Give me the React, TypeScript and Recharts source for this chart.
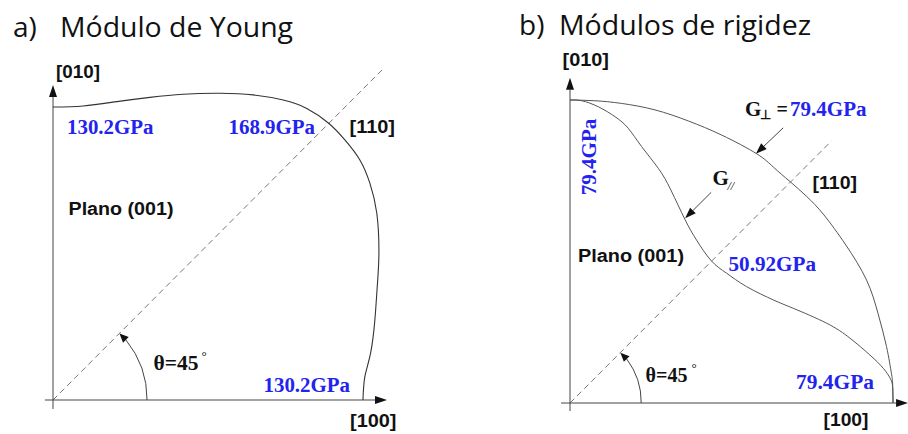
import React from "react"
import { ComposedChart, Line, XAxis, YAxis, ReferenceLine } from "recharts"

// a) Módulo de Young no plano (001): contorno em componentes x/y (GPa)
const youngX = [0, 12.7, 26.8, 40.7, 54.7, 70.1, 84.1, 96.7, 106.6, 115.8, 122.6, 128.9, 133.1, 136.0, 136.9, 136.2, 135.2, 133.4, 131.0, 130.2]
const youngY = [130.2, 130.7, 132.6, 134.5, 135.9, 136.3, 135.6, 133.3, 129.6, 123.0, 115.6, 106.7, 96.4, 83.1, 65.2, 50.4, 35.6, 20.8, 10.4, 0]

// b) Módulos de rigidez: G perpendicular e G paralelo (GPa)
const gPerpX = [0, 6.1, 12.7, 20.9, 29.1, 37.3, 45.9, 50.0, 54.1, 58.2, 62.4, 67.8, 72.9, 75.7, 77.8, 79.0, 79.3, 79.4]
const gPerpY = [79.4, 79.2, 78.5, 76.8, 73.9, 70.2, 65.3, 61.8, 58.0, 54.1, 49.3, 41.4, 32.2, 23.5, 14.8, 7.8, 5.2, 0]
const gParX = [0, 2.9, 7.0, 11.1, 14.3, 17.6, 21.7, 24.8, 28.3, 31.1, 34.7, 38.5, 43.4, 50.0, 54.9, 63.1, 68.8, 73.7, 77.0, 78.7, 79.3, 79.4]
const gParY = [79.4, 79.2, 77.6, 75.0, 72.0, 67.2, 61.5, 55.8, 48.0, 42.7, 37.3, 34.0, 30.5, 27.0, 24.8, 20.9, 17.0, 12.6, 9.1, 6.5, 4.3, 0]

const toPoints = (xs: number[], ys: number[]) => xs.map((x, i) => ({ x, y: ys[i] }))

const BLUE = "#2323f0"
const AXIS = "#444"

// line with a filled arrow head at (x2, y2)
const ArrowLine = (props: any) => {
  const { x1, y1, x2, y2, head = 12, wing = 4, color = AXIS } = props
  const a = Math.atan2(y2 - y1, x2 - x1)
  const bx = x2 - head * Math.cos(a)
  const by = y2 - head * Math.sin(a)
  const px = -Math.sin(a) * wing
  const py = Math.cos(a) * wing
  return (
    <g>
      <line x1={x1} y1={y1} x2={bx} y2={by} stroke={color} strokeWidth={1} />
      <polygon points={`${x2},${y2} ${bx + px},${by + py} ${bx - px},${by - py}`} fill="#111" />
    </g>
  )
}

// 45 degree arc around (x1, y1), starting at (x2, y2), arrow at the end
const AngleArc = (props: any) => {
  const { x1, y1, x2, y2 } = props
  const r = Math.hypot(x2 - x1, y2 - y1)
  const ex = x1 + r * Math.SQRT1_2
  const ey = y1 - r * Math.SQRT1_2
  const dx = -Math.SQRT1_2
  const dy = -Math.SQRT1_2
  const bx = ex - 9 * dx
  const by = ey - 9 * dy
  const px = -dy * 4
  const py = dx * 4
  return (
    <g>
      <path d={`M ${x2} ${y2} A ${r} ${r} 0 0 0 ${bx} ${by}`} fill="none" stroke={AXIS} strokeWidth={1} />
      <polygon points={`${ex},${ey} ${bx + px},${by + py} ${bx - px},${by - py}`} fill="#111" />
    </g>
  )
}

function YoungPanel() {
  return (
    <ComposedChart width={454} height={434} margin={{ top: 73.75, right: 55.8, bottom: 22.75, left: 41.1 }}>
      <XAxis type="number" dataKey="x" domain={[-5, 145]} hide allowDataOverflow />
      <YAxis type="number" dataKey="y" domain={[-5, 145]} hide allowDataOverflow />
      <ReferenceLine ifOverflow="visible" segment={[{ x: 0, y: 0 }, { x: 138.6, y: 147.1 }]} stroke="#777" strokeDasharray="6 4" />
      <ReferenceLine ifOverflow="visible" segment={[{ x: -3.4, y: 0 }, { x: 140.3, y: 0 }]} shape={(p: any) => <ArrowLine {...p} />} />
      <ReferenceLine ifOverflow="visible" segment={[{ x: 0, y: -4 }, { x: 0, y: 140 }]} shape={(p: any) => <ArrowLine {...p} />} />
      <ReferenceLine ifOverflow="visible" segment={[{ x: 0, y: 0 }, { x: 39.5, y: 0 }]} shape={(p: any) => <AngleArc {...p} />} />
      <Line data={toPoints(youngX, youngY)} dataKey="y" type="natural" stroke="#333" strokeWidth={1.1} dot={false} isAnimationActive={false} />
    </ComposedChart>
  )
}

function ShearPanel() {
  return (
    <ComposedChart width={454} height={434} margin={{ top: 74.8, right: 4.4, bottom: 19.55, left: 103.8 }}>
      <XAxis type="number" dataKey="x" domain={[-3, 82]} hide allowDataOverflow />
      <YAxis type="number" dataKey="y" domain={[-3, 86]} hide allowDataOverflow />
      <ReferenceLine ifOverflow="visible" segment={[{ x: 0, y: 0 }, { x: 64.3, y: 68.7 }]} stroke="#777" strokeDasharray="6 4" />
      <ReferenceLine ifOverflow="visible" segment={[{ x: -2.2, y: 0 }, { x: 83.1, y: 0 }]} shape={(p: any) => <ArrowLine {...p} />} />
      <ReferenceLine ifOverflow="visible" segment={[{ x: 0, y: -2.1 }, { x: 0, y: 85.2 }]} shape={(p: any) => <ArrowLine {...p} />} />
      <ReferenceLine ifOverflow="visible" segment={[{ x: 0, y: 0 }, { x: 17.5, y: 0 }]} shape={(p: any) => <AngleArc {...p} />} />
      <ReferenceLine ifOverflow="visible" segment={[{ x: 52.4, y: 72.1 }, { x: 45.7, y: 65.3 }]} shape={(p: any) => <ArrowLine {...p} head={11} wing={4} />} />
      <ReferenceLine ifOverflow="visible" segment={[{ x: 34.7, y: 55.2 }, { x: 28.3, y: 48.4 }]} shape={(p: any) => <ArrowLine {...p} head={11} wing={4} />} />
      <Line data={toPoints(gPerpX, gPerpY)} dataKey="y" type="natural" stroke="#555" strokeWidth={1} dot={false} isAnimationActive={false} />
      <Line data={toPoints(gParX, gParY)} dataKey="y" type="natural" stroke="#555" strokeWidth={1} dot={false} isAnimationActive={false} />
    </ComposedChart>
  )
}

const serif = "'Liberation Serif', 'Times New Roman', serif"
const sans = "'Liberation Sans', Arial, sans-serif"
const title = "'Open Sans', 'Noto Sans', sans-serif"

const Val = ({ x, y, w, children }: any) => (
  <text x={x} y={y} textLength={w} lengthAdjust="spacingAndGlyphs" fill={BLUE} fontFamily={serif} fontWeight="bold" fontSize={20}>
    {children}
  </text>
)
const Tag = ({ x, y, w, children }: any) => (
  <text x={x} y={y} textLength={w} lengthAdjust="spacingAndGlyphs" fill="#111" fontFamily={sans} fontWeight="bold" fontSize={18}>
    {children}
  </text>
)
// θ=45 with a raised degree sign, kept in one text element
const Theta = ({ x, y, w, gap }: any) => (
  <text x={x} y={y} fontFamily={serif} fill="#111">
    <tspan textLength={w} lengthAdjust="spacingAndGlyphs" fontWeight="bold" fontSize={22}>θ=45</tspan>
    <tspan dx={gap} dy={-10} fontSize={13}>°</tspan>
  </text>
)

function Labels() {
  return (
    <svg width={908} height={434} style={{ position: "absolute", left: 0, top: 0, pointerEvents: "none" }}>
      <text x={13} y={37} fontFamily={title} fontSize={28} fill="#111">a)</text>
      <text x={60} y={37} fontFamily={title} fontSize={28} fill="#111" textLength={233} lengthAdjust="spacingAndGlyphs">Módulo de Young</text>
      <text x={519} y={35} fontFamily={title} fontSize={28} fill="#111">b)</text>
      <text x={559} y={35} fontFamily={title} fontSize={28} fill="#111" textLength={252} lengthAdjust="spacingAndGlyphs">Módulos de rigidez</text>

      {/* painel a */}
      <Tag x={56} y={78} w={44}>[010]</Tag>
      <Val x={67} y={134} w={86.5}>130.2GPa</Val>
      <Val x={228.5} y={134} w={86.5}>168.9GPa</Val>
      <Tag x={349.5} y={133} w={45.5}>[110]</Tag>
      <Tag x={68.5} y={215} w={105}>Plano (001)</Tag>
      <Theta x={153.5} y={370} w={45} gap={3} />
      <Val x={263.5} y={392} w={86.5}>130.2GPa</Val>
      <Tag x={350} y={427} w={46.5}>[100]</Tag>

      {/* painel b */}
      <Tag x={562.5} y={66} w={46.5}>[010]</Tag>
      <text x={745} y={116} fontFamily={serif} fontWeight="bold" fontSize={21} fill="#111">G</text>
      <text x={760} y={119} fontFamily={serif} fontWeight="bold" fontSize={13} fill="#111">⊥</text>
      <text x={776.5} y={116} fontFamily={serif} fontWeight="bold" fontSize={20} fill="#111">=</text>
      <Val x={790} y={116} w={76.5}>79.4GPa</Val>
      <Tag x={812.5} y={189} w={44.5}>[110]</Tag>
      <text x={712.5} y={185} fontFamily={serif} fontWeight="bold" fontSize={21} fill="#111">G</text>
      <text x={727.5} y={190} fontFamily={serif} fontStyle="italic" fontSize={12} fill="#111">//</text>
      <Tag x={578} y={262} w={106}>Plano (001)</Tag>
      <Val x={728.5} y={271} w={87.5}>50.92GPa</Val>
      <Val x={796} y={389} w={78}>79.4GPa</Val>
      <Tag x={823.5} y={426} w={45}>[100]</Tag>
      <Theta x={645.5} y={382} w={42} gap={4} />
      <g transform="translate(596, 157) rotate(-90)">
        <text x={0} y={0} textAnchor="middle" textLength={76.5} lengthAdjust="spacingAndGlyphs" fill={BLUE} fontFamily={serif} fontWeight="bold" fontSize={20}>
          79.4GPa
        </text>
      </g>
    </svg>
  )
}

export default function App() {
  return (
    <div style={{ position: "absolute", left: 0, top: 0, width: 908, height: 434, background: "#fff", overflow: "hidden" }}>
      <div style={{ position: "absolute", left: 0, top: 0 }}>
        <YoungPanel />
      </div>
      <div style={{ position: "absolute", left: 454, top: 0 }}>
        <ShearPanel />
      </div>
      <Labels />
    </div>
  )
}
